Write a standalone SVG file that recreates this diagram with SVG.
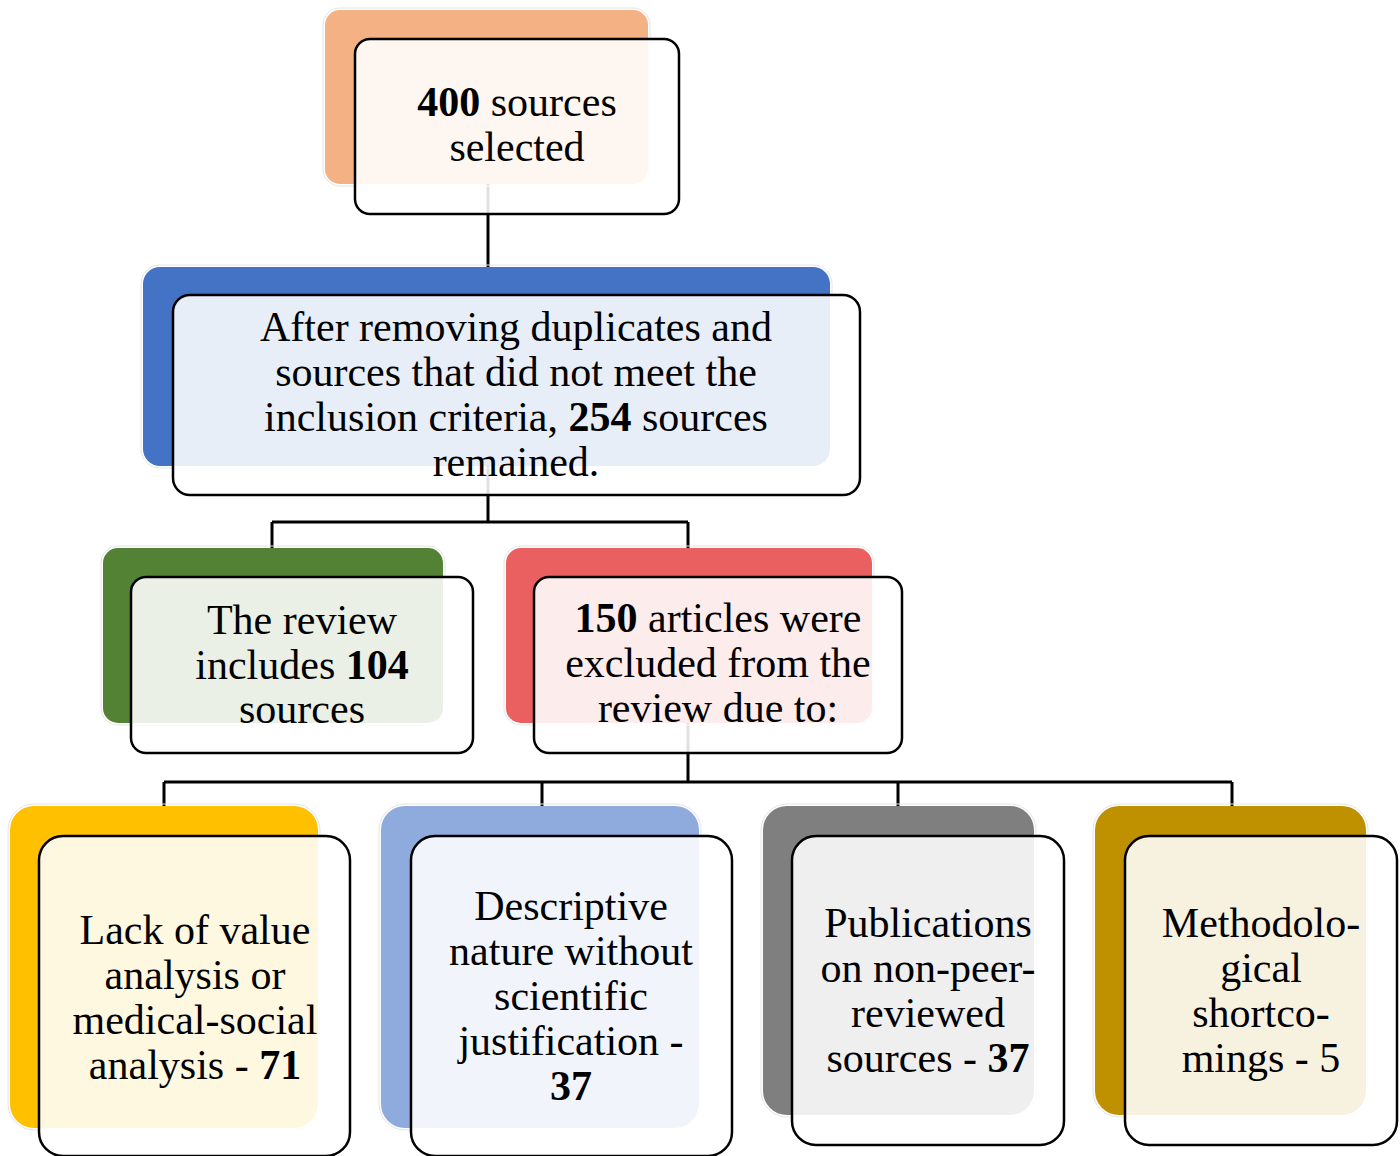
<svg xmlns="http://www.w3.org/2000/svg" width="1400" height="1156" viewBox="0 0 1400 1156">
<style>
.halo{fill:none;stroke:#e4e4e4;stroke-width:1}
.front{fill:#ffffff;fill-opacity:0.88;stroke:#000;stroke-width:2.5}
.conn{fill:none;stroke:#000;stroke-width:3}
text{font-family:"Liberation Serif","Times New Roman",serif;font-size:42px;fill:#000;text-anchor:middle}
.b{font-weight:bold}
</style>
<rect width="1400" height="1156" fill="#fff"/>
<g id="connectors">
<path class="conn" d="M488 184V267"/>
<path class="conn" d="M488 466V522M272 522H688M272 522V548M688 522V548"/>
<path class="conn" d="M688 723V782M164 782H1232M164 782V806M542 782V806M898 782V806M1232 782V806"/>
</g>
<g id="n1">
<rect class="halo" x="323" y="8" width="327" height="178" rx="17"/>
<rect x="325" y="10" width="323" height="174" rx="15" fill="#F4B183"/>
<rect class="front" x="355" y="39" width="324" height="175" rx="15"/>
<text x="517" y="116"><tspan class="b">400</tspan> sources</text>
<text x="517" y="161">selected</text>
</g>
<g id="n2">
<rect class="halo" x="141" y="265" width="691" height="203" rx="19"/>
<rect x="143" y="267" width="687" height="199" rx="17" fill="#4472C4"/>
<rect class="front" x="173" y="295" width="687" height="200" rx="17"/>
<text x="516" y="341">After removing duplicates and</text>
<text x="516" y="386">sources that did not meet the</text>
<text x="516" y="431">inclusion criteria, <tspan class="b">254</tspan> sources</text>
<text x="516" y="476">remained.</text>
</g>
<g id="n3">
<rect class="halo" x="101" y="546" width="344" height="179" rx="17"/>
<rect x="103" y="548" width="340" height="175" rx="15" fill="#548235"/>
<rect class="front" x="131" y="577" width="342" height="176" rx="15"/>
<text x="302" y="634">The review</text>
<text x="302" y="679">includes <tspan class="b">104</tspan></text>
<text x="302" y="723">sources</text>
</g>
<g id="n4">
<rect class="halo" x="504" y="546" width="370" height="179" rx="17"/>
<rect x="506" y="548" width="366" height="175" rx="15" fill="#EA6060"/>
<rect class="front" x="534" y="577" width="368" height="176" rx="15"/>
<text x="718" y="632"><tspan class="b">150</tspan> articles were</text>
<text x="718" y="677">excluded from the</text>
<text x="718" y="722">review due to:</text>
</g>
<g id="n5">
<rect class="halo" x="8" y="804" width="312" height="326" rx="26"/>
<rect x="10" y="806" width="308" height="322" rx="24" fill="#FFC000"/>
<rect class="front" x="39" y="836" width="311" height="320" rx="24"/>
<text x="195" y="944">Lack of value</text>
<text x="195" y="989">analysis or</text>
<text x="195" y="1034">medical-social</text>
<text x="195" y="1079">analysis - <tspan class="b">71</tspan></text>
</g>
<g id="n6">
<rect class="halo" x="379" y="804" width="322" height="326" rx="26"/>
<rect x="381" y="806" width="318" height="322" rx="24" fill="#8FAADC"/>
<rect class="front" x="411" y="836" width="321" height="320" rx="24"/>
<text x="571" y="920">Descriptive</text>
<text x="571" y="965">nature without</text>
<text x="571" y="1010">scientific</text>
<text x="571" y="1055">justification -</text>
<text x="571" y="1100" class="b">37</text>
</g>
<g id="n7">
<rect class="halo" x="761" y="804" width="275" height="313" rx="26"/>
<rect x="763" y="806" width="271" height="309" rx="24" fill="#7F7F7F"/>
<rect class="front" x="792" y="836" width="272" height="309" rx="24"/>
<text x="928" y="937">Publications</text>
<text x="928" y="982">on non-peer-</text>
<text x="928" y="1027">reviewed</text>
<text x="928" y="1072">sources - <tspan class="b">37</tspan></text>
</g>
<g id="n8">
<rect class="halo" x="1093" y="804" width="275" height="313" rx="26"/>
<rect x="1095" y="806" width="271" height="309" rx="24" fill="#BF9000"/>
<rect class="front" x="1125" y="836" width="272" height="309" rx="24"/>
<text x="1261" y="937">Methodolo-</text>
<text x="1261" y="982">gical</text>
<text x="1261" y="1027">shortco-</text>
<text x="1261" y="1072">mings - 5</text>
</g>
</svg>
